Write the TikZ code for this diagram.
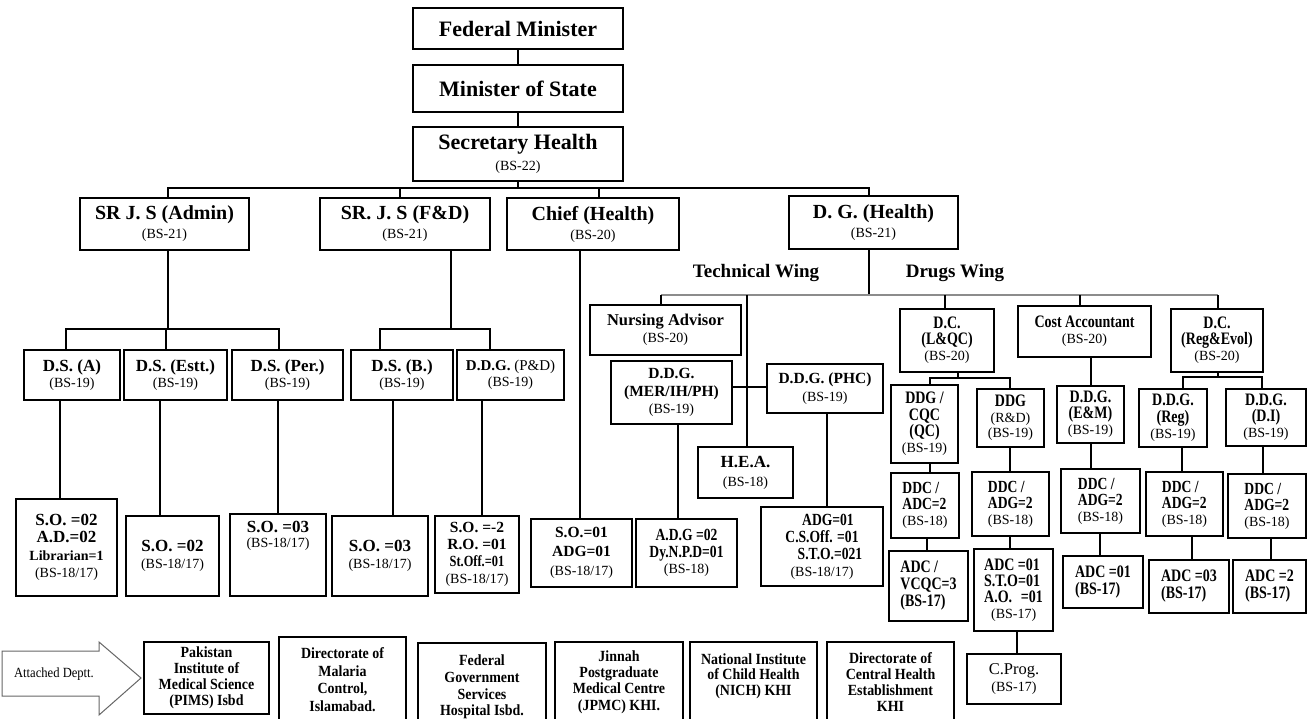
\documentclass[tikz,border=0pt]{standalone}
\usepackage{fontspec}
\setmainfont{Liberation Serif}
\newfontfamily\condfam[FakeStretch=0.8]{Liberation Serif}
\newfontfamily\attfam[FakeStretch=0.9]{Liberation Serif}
% line-level font switches (keep the node's line spacing)
\newcommand\fBS{\rmfamily\mdseries\fontsize{14}{\baselineskip}\selectfont}
\newcommand\fLib{\rmfamily\bfseries\fontsize{14}{\baselineskip}\selectfont}
% box given by its corners: [style]{name}{x1}{y1}{x2}{y2}{text}
\newcommand\orgbox[7][]{\node[box,#1,minimum width={#5-#3},minimum height={#6-#4}] (#2) at ({(#3+#5)/2},{(#4+#6)/2}) {#7};}

\begin{document}
\begin{tikzpicture}[x=1pt,y=-1pt,
  box/.style={draw, line width=1.3pt, inner sep=1pt, align=center, font=\fontsize{14}{16}\selectfont},
  lft/.style={align=left},
  rb/.style 2 args={font=\rmfamily\bfseries\fontsize{#1}{#2}\selectfont},
  rr/.style 2 args={font=\rmfamily\mdseries\fontsize{#1}{#2}\selectfont},
  cb/.style 2 args={font=\condfam\bfseries\fontsize{#1}{#2}\selectfont},
  ab/.style 2 args={font=\attfam\bfseries\fontsize{#1}{#2}\selectfont},
  link/.style={line width=1.1pt},
  heavy/.style={line width=2.8pt},
  wingbus/.style={line width=1.5pt, draw=black!45},
  wing/.style={font=\rmfamily\bfseries\fontsize{19}{21}\selectfont, anchor=base, inner sep=0pt}
]
\useasboundingbox (0,0) rectangle (1311,719);
\clip (0,0) rectangle (1311,719);
\fill[white] (0,0) rectangle (1311,719);

% ---------- ministerial chain ----------
\orgbox[rb={22}{24}]{fm}{413}{8}{623}{49}{Federal Minister}
\orgbox[rb={22}{24}]{ms}{413}{65}{623}{112}{Minister of State}
\orgbox[rb={22}{21}]{sh}{413}{127}{623}{181}{Secretary Health\\ \fBS (BS-22)}

% ---------- first level ----------
\orgbox[rb={20}{19}]{adm}{80}{198}{249}{250}{SR J. S (Admin)\\ \fBS (BS-21)}
\orgbox[rb={20}{19}]{fd}{320}{198}{490}{250}{SR. J. S (F\&D)\\ \fBS (BS-21)}
\orgbox[rb={20}{19}]{ch}{507}{198}{679}{250}{Chief (Health)\\ \fBS (BS-20)}
\orgbox[rb={20}{19}]{dg}{789}{196}{958}{249}{D. G. (Health)\\ \fBS (BS-21)}

\node[wing] (tw) at (756,277) {Technical Wing};
\node[wing] (dw) at (955,277) {Drugs Wing};

% ---------- deputy secretaries ----------
\orgbox[rb={17}{16}]{dsa}{24}{350}{120}{400}{D.S. (A)\\ \fBS (BS-19)}
\orgbox[rb={17}{16}]{dse}{124}{350}{227}{400}{D.S. (Estt.)\\ \fBS (BS-19)}
\orgbox[rb={17}{16}]{dsp}{232}{350}{343}{400}{D.S. (Per.)\\ \fBS (BS-19)}
\orgbox[rb={17}{16}]{dsb}{351}{350}{453}{400}{D.S. (B.)\\ \fBS (BS-19)}
\orgbox[rb={15}{16}]{pd}{457}{350}{564}{400}{D.D.G. {\mdseries(P\&D)}\\ \fBS (BS-19)}

% ---------- section officers ----------
\orgbox[rb={17}{17.5}]{soa}{16}{499}{117}{596}{S.O. =02\\ A.D.=02\\ \fLib Librarian=1\\ \fBS (BS-18/17)}
\orgbox[rb={17}{17}]{soe}{126}{516}{219}{596}{S.O. =02\\ \fBS (BS-18/17)}
\orgbox{sop}{230}{514}{326}{596}{}
\node[rb={17}{15}, align=center, inner sep=0pt] (sopt) at (278,536) {S.O. =03\\ \fBS (BS-18/17)};
\orgbox[rb={17}{17}]{sob}{332}{516}{428}{596}{S.O. =03\\ \fBS (BS-18/17)}
\orgbox[rb={15.5}{17}]{sopd}{435}{516}{519}{593}{S.O. =-2\\ R.O. =01\\ {\condfam St.Off.=01}\\ \fBS (BS-18/17)}

% ---------- technical wing ----------
\orgbox[rb={15.5}{19}]{soc}{531}{519}{632}{587}{S.O.=01\\ ADG=01\\ \fBS (BS-18/17)}
\orgbox[rb={16.5}{17}]{na}{590}{305}{741}{355}{Nursing Advisor\\ \fBS (BS-20)}
\orgbox[rb={15.5}{17.5}]{mer}{611}{361}{732}{424}{D.D.G.\\ (MER/IH/PH)\\ \fBS (BS-19)}
\orgbox[rb={15.5}{18}]{phc}{767}{364}{883}{413}{D.D.G. (PHC)\\ \fBS (BS-19)}
\orgbox[rb={17}{19}]{hea}{698}{447}{793}{498}{H.E.A.\\ \fBS (BS-18)}
\orgbox[cb={17}{16.5}]{adg}{636}{519}{737}{587}{A.D.G =02\\ Dy.N.P.D=01\\ \fBS (BS-18)}
\orgbox[cb={17}{17}]{adgp}{761}{507}{883}{586}{\hspace*{12pt}ADG=01\\ C.S.Off. =01\hspace*{12pt}\\ \hspace*{16pt}S.T.O.=021\\ \fBS (BS-18/17)}

% ---------- drugs wing ----------
\orgbox[cb={17.5}{16}]{dcl}{900}{309}{994}{372}{D.C.\\ (L\&QC)\\ \fBS (BS-20)}
\orgbox[cb={17.5}{16}]{ca}{1018}{306}{1151}{357}{Cost Accountant\\ \fBS (BS-20)}
\orgbox[cb={17.5}{16}]{dcr}{1171}{309}{1263}{372}{D.C.\\ (Reg\&Evol)\\ \fBS (BS-20)}

\orgbox[cb={17.5}{16.3}]{cqc}{891}{385}{958}{463}{DDG /\\ CQC\\ (QC)\\ \fBS (BS-19)}
\orgbox[cb={17.5}{15.5}]{rd}{977}{389}{1044}{447}{DDG\\ \fBS (R\&D)\\ \fBS (BS-19)}
\orgbox[cb={17.5}{16}]{em}{1057}{386}{1124}{443}{D.D.G.\\ (E\&M)\\ \fBS (BS-19)}
\orgbox[cb={17.5}{16.5}]{reg}{1139}{389}{1207}{447}{D.D.G.\\ (Reg)\\ \fBS (BS-19)}
\orgbox[cb={17.5}{16}]{di}{1226}{389}{1306}{446}{D.D.G.\\ (D.I)\\ \fBS (BS-19)}

\orgbox[cb={17}{16},lft]{ddca}{891}{473}{959}{538}{DDC /\\ ADC=2\\ \fBS (BS-18)}
\orgbox[cb={17}{16},lft]{ddcb}{972}{472}{1049}{536}{DDC /\\ ADG=2\\ \fBS (BS-18)}
\orgbox[cb={17}{16},lft]{ddcc}{1061}{469}{1140}{533}{DDC /\\ ADG=2\\ \fBS (BS-18)}
\orgbox[cb={17}{16},lft]{ddcd}{1146}{472}{1223}{536}{DDC /\\ ADG=2\\ \fBS (BS-18)}
\orgbox[cb={17}{16},lft]{ddce}{1228}{474}{1306}{538}{DDC /\\ ADG=2\\ \fBS (BS-18)}

\orgbox[cb={17.5}{17},lft]{vcqc}{889}{551}{968}{621}{ADC /\\ VCQC=3\\ (BS-17)}
\orgbox[cb={17.5}{16},lft]{sto}{974}{549}{1053}{631}{ADC =01\\ S.T.O=01\\ A.O.\enspace=01\\ \fBS\enspace(BS-17)}
\orgbox[cb={17.5}{17},lft]{adca}{1063}{556}{1143}{608}{ADC =01\\ (BS-17)}
\orgbox[cb={17.5}{17},lft]{adcb}{1149}{560}{1229}{613}{ADC =03\\ (BS-17)}
\orgbox[cb={17.5}{17},lft]{adcc}{1233}{560}{1306}{613}{ADC =2\\ (BS-17)}
\orgbox[rr={16.5}{17}]{cprog}{967}{654}{1061}{704}{C.Prog.\\ \fBS (BS-17)}

% ---------- attached departments ----------
\draw[line width=1pt, draw=black!60, fill=white]
  (2,651) -- (99,651) -- (99,642) -- (141,678) -- (99,715) -- (99,696) -- (2,696) -- cycle;
\node[font=\attfam\fontsize{14}{16}\selectfont, inner sep=0pt] (att) at (54,674) {Attached Deptt.};

\orgbox[ab={15.5}{16}]{pims}{144}{642}{269}{714}{Pakistan\\ Institute of\\ Medical Science\\ (PIMS) Isbd}
\orgbox[ab={15.5}{17.5}]{mal}{279}{637}{406}{722}{Directorate of\\ Malaria\\ Control,\\ Islamabad.}
\orgbox[ab={15.5}{16.7}]{fgsh}{418}{643}{546}{731}{Federal\\ Government\\ Services\\ Hospital Isbd.}
\orgbox[ab={15.5}{16.3}]{jpmc}{555}{642}{683}{722}{Jinnah\\ Postgraduate\\ Medical Centre\\ (JPMC) KHI.}
\orgbox[ab={15.5}{15.5}]{nich}{690}{642}{817}{722}{National Institute\\ of Child Health\\ (NICH) KHI\\ \mbox{}}
\orgbox[ab={15.5}{16.3}]{cent}{827}{642}{954}{722}{Directorate of\\ Central Health\\ Establishment\\ KHI}

% ---------- connectors ----------
\draw[link] (fm.south) -- (ms.north);
\draw[link] (ms.south) -- (sh.north);
\coordinate (b0) at (518,188);
\draw[link] (sh.south) -- (b0);
\draw[link] (adm.north -| 168,0) |- (b0) -| (dg.north -| 869,0);
\draw[link] (fd.north -| 400,0) -- (b0 -| 400,0);
\draw[link] (ch.north -| 599,0) -- (b0 -| 599,0);

\coordinate (ba) at (168,329);
\draw[link] (adm.south -| ba) -- (ba);
\draw[link] (dsa.north -| 66,0) |- (ba) -| (dsp.north -| 279,0);
\draw[link] (dse.north -| 166,0) -- (ba -| 166,0);

\coordinate (bf) at (451,329);
\draw[link] (fd.south -| bf) -- (bf);
\draw[link] (dsb.north -| 380,0) |- (bf) -| (pd.north -| 490,0);

\draw[link] (dsa.south -| 60,0) -- (soa.north -| 60,0);
\draw[link] (dse.south -| 160,0) -- (soe.north -| 160,0);
\draw[link] (dsp.south -| 278,0) -- (sop.north -| 278,0);
\draw[link] (dsb.south -| 393,0) -- (sob.north -| 393,0);
\draw[link] (pd.south -| 482,0) -- (sopd.north -| 482,0);

\draw[heavy] (ch.south -| 580,0) -- (soc.north -| 580,0);

\coordinate (bd) at (869,295);
\draw[link] (dg.south -| bd) -- (bd);
\draw[wingbus] (bd -| 661,0) -- (bd -| 1218,0);
\draw[link] (na.north -| 661,0) -- (bd -| 661,0);
\draw[link] (dcl.north -| 945,0) -- (bd -| 945,0);
\draw[link] (ca.north -| 1080,0) -- (bd -| 1080,0);
\draw[link] (dcr.north -| 1218,0) -- (bd -| 1218,0);

\coordinate (jm) at (747,387);
\draw[link] (bd -| jm) -- (jm);
\draw[heavy] (jm) -- (hea.north -| jm);
\draw[link] (mer.east |- jm) -- (phc.west |- jm);
\draw[link] (mer.south -| 678,0) -- (adg.north -| 678,0);
\draw[link] (phc.south -| 827,0) -- (adgp.north -| 827,0);

\coordinate (jl) at (958,378);
\draw[link] (dcl.south -| jl) -- (jl);
\draw[link] (cqc.north -| 930,0) |- (jl) -| (rd.north -| 1010,0);
\draw[link] (cqc.south -| 930,0) -- (ddca.north -| 930,0);
\draw[link] (ddca.south -| 927,0) -- (vcqc.north -| 927,0);
\draw[link] (rd.south -| 1010,0) -- (ddcb.north -| 1010,0);
\draw[link] (ddcb.south -| 1010,0) -- (sto.north -| 1010,0);
\draw[link] (sto.south -| 1017,0) -- (cprog.north -| 1017,0);

\draw[link] (ca.south -| 1091,0) -- (em.north -| 1091,0);
\draw[link] (em.south -| 1091,0) -- (ddcc.north -| 1091,0);
\draw[link] (ddcc.south -| 1100,0) -- (adca.north -| 1100,0);

\coordinate (jr) at (1218,377);
\draw[link] (dcr.south -| jr) -- (jr);
\draw[link] (reg.north -| 1183,0) |- (jr) -| (di.north -| 1262,0);
\draw[link] (reg.south -| 1182,0) -- (ddcd.north -| 1182,0);
\draw[link] (ddcd.south -| 1192,0) -- (adcb.north -| 1192,0);
\draw[link] (di.south -| 1263,0) -- (ddce.north -| 1263,0);
\draw[link] (ddce.south -| 1271,0) -- (adcc.north -| 1271,0);
\end{tikzpicture}
\end{document}
